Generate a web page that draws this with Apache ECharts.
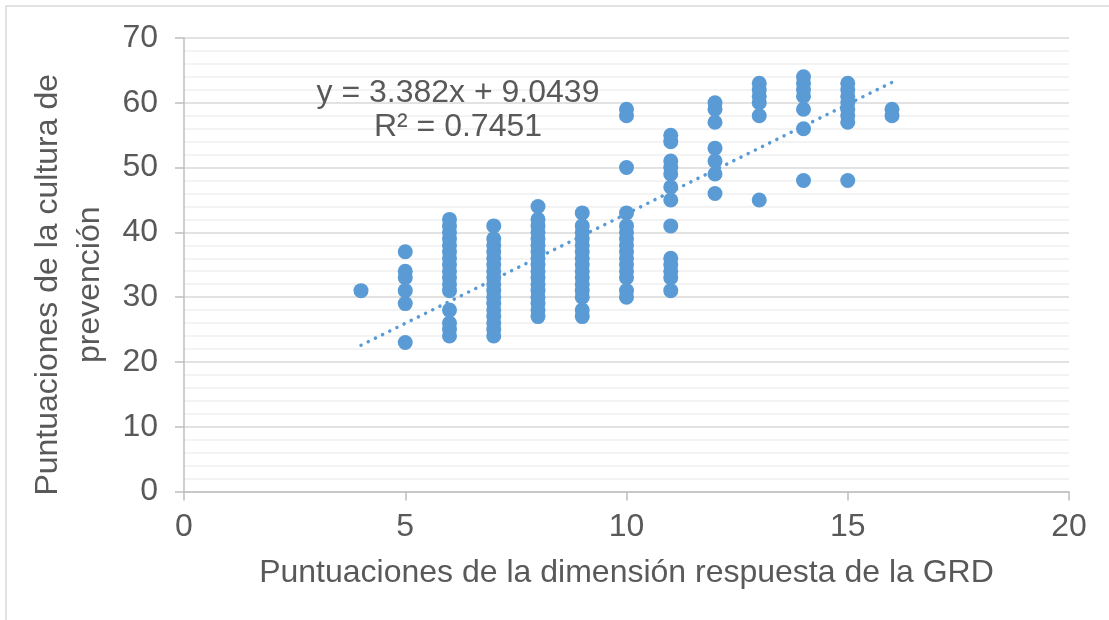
<!DOCTYPE html>
<html>
<head>
<meta charset="utf-8">
<script src="https://cdn.jsdelivr.net/npm/echarts@6/dist/echarts.min.js"></script>
<style>
html,body{margin:0;padding:0;background:#fff;}
#chart{width:1109px;height:620px;}
</style>
</head>
<body>
<div id="chart"></div>
<script>
// X scores (dimension respuesta GRD) and the Y scores observed at each one
const xValues = [4, 5, 6, 7, 8, 9, 10, 11, 12, 13, 14, 15, 16];
const yAt4  = [31];
const yAt5  = [23, 29, 31, 33, 34, 37];
const yAt6  = [24, 25, 26, 28, 31, 32, 33, 34, 35, 36, 37, 38, 39, 40, 41, 42];
const yAt7  = [24, 25, 26, 27, 28, 29, 30, 31, 32, 33, 34, 35, 36, 37, 38, 39, 41];
const yAt8  = [27, 28, 29, 30, 31, 32, 33, 34, 35, 36, 37, 38, 39, 40, 41, 42, 44];
const yAt9  = [27, 28, 30, 31, 32, 33, 34, 35, 36, 37, 38, 39, 40, 41, 43];
const yAt10 = [30, 31, 33, 34, 35, 36, 37, 38, 39, 40, 41, 43, 50, 58, 59];
const yAt11 = [31, 33, 34, 35, 36, 41, 45, 47, 49, 50, 51, 54, 55];
const yAt12 = [46, 49, 51, 53, 57, 59, 60];
const yAt13 = [45, 58, 60, 61, 62, 63];
const yAt14 = [48, 56, 59, 61, 62, 63, 64];
const yAt15 = [48, 57, 58, 59, 60, 61, 62, 63];
const yAt16 = [58, 59];
const yColumns = [yAt4, yAt5, yAt6, yAt7, yAt8, yAt9, yAt10, yAt11, yAt12, yAt13, yAt14, yAt15, yAt16];

// Trendline as reported on the chart
const trendSlope = 3.382;
const trendIntercept = 9.0439;
const trendR2 = 0.7451;
const trendXRange = [4, 16];

const xTicks = [0, 5, 10, 15, 20];
const yTicks = [0, 10, 20, 30, 40, 50, 60, 70];

const xTitle = 'Puntuaciones de la dimensión respuesta de la GRD';
const yTitle = 'Puntuaciones de la cultura de\nprevención';
const eqLine1 = 'y = ' + trendSlope + 'x + ' + trendIntercept;
const eqLine2 = 'R² = ' + trendR2;

const points = [];
xValues.forEach((x, i) => yColumns[i].forEach(y => points.push([x, y])));
const trendData = trendXRange.map(x => [x, trendIntercept + trendSlope * x]);

const FONT = 'Liberation Sans, Arial, sans-serif';
const FS = 32;
const TXT = '#595959';
const BLUE = '#5B9BD5';

const chart = echarts.init(document.getElementById('chart'), null, {renderer: 'canvas'});
chart.setOption({
  animation: false,
  backgroundColor: '#ffffff',
  grid: {left: 184, right: 40, top: 38, bottom: 128.5, containLabel: false},
  xAxis: {
    type: 'value',
    min: xTicks[0], max: xTicks[xTicks.length - 1], interval: 5,
    name: xTitle,
    nameLocation: 'middle',
    nameGap: 66,
    nameTextStyle: {fontFamily: FONT, fontSize: FS, color: TXT},
    axisLine: {show: true, lineStyle: {color: '#BFBFBF', width: 1.5}},
    axisTick: {show: true, length: 9, lineStyle: {color: '#BFBFBF', width: 1.5}},
    axisLabel: {fontFamily: FONT, fontSize: FS, color: TXT, margin: 20},
    splitLine: {show: false},
    minorTick: {show: false},
    minorSplitLine: {show: false}
  },
  yAxis: {
    type: 'value',
    min: yTicks[0], max: yTicks[yTicks.length - 1], interval: 10,
    name: yTitle,
    nameLocation: 'middle',
    nameGap: 72,
    nameRotate: 90,
    nameTextStyle: {fontFamily: FONT, fontSize: FS, color: TXT, lineHeight: 42, padding: [0, 40, 0, 0]},
    axisLine: {show: true, lineStyle: {color: '#BFBFBF', width: 1.5}},
    axisTick: {show: true, length: 9, lineStyle: {color: '#BFBFBF', width: 1.5}},
    axisLabel: {fontFamily: FONT, fontSize: FS, color: TXT, margin: 26},
    splitLine: {show: true, lineStyle: {color: '#D9D9D9', width: 1.5}},
    minorTick: {show: false, splitNumber: 5},
    minorSplitLine: {show: true, lineStyle: {color: '#F0F0F0', width: 1.5}}
  },
  graphic: [
    {type: 'rect', shape: {x: 6, y: 6, width: 1200, height: 700}, style: {fill: 'none', stroke: '#D9D9D9', lineWidth: 1.5}, silent: true, z: -10},
    {type: 'text', x: 458, y: 77, z: 100, style: {text: eqLine1, font: FS + 'px ' + FONT, fill: TXT, align: 'center', verticalAlign: 'top'}},
    {type: 'text', x: 458, y: 111, z: 100, style: {text: eqLine2, font: FS + 'px ' + FONT, fill: TXT, align: 'center', verticalAlign: 'top'}}
  ],
  series: [
    {
      type: 'scatter',
      data: points,
      symbol: 'circle',
      symbolSize: 15,
      itemStyle: {color: BLUE, opacity: 1},
      z: 2
    },
    {
      type: 'line',
      data: trendData,
      showSymbol: false,
      symbol: 'none',
      lineStyle: {color: BLUE, width: 3.5, type: [0.1, 7.9], cap: 'round'},
      z: 3
    }
  ]
});
</script>
</body>
</html>
